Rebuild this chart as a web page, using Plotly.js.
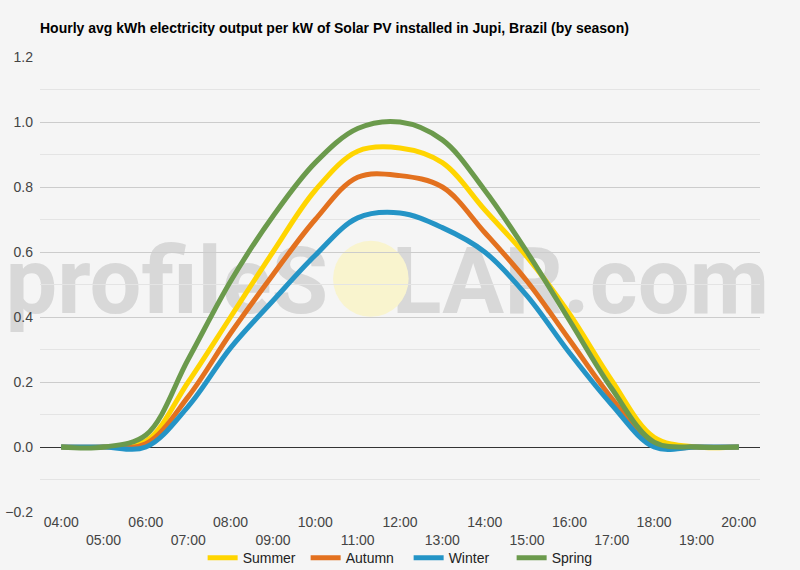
<!DOCTYPE html>
<html>
<head>
<meta charset="utf-8">
<script src="https://cdn.plot.ly/plotly-3.0.1.min.js"></script>
<style>
  html, body { margin: 0; padding: 0; background: #f5f5f5; }
  #chart { width: 800px; height: 570px; }
</style>
</head>
<body>
<div id="chart"></div>
<script>
// hourly values
const hours = ["04:00", "05:00", "06:00", "07:00", "08:00", "09:00", "10:00", "11:00", "12:00",
               "13:00", "14:00", "15:00", "16:00", "17:00", "18:00", "19:00", "20:00"];
const summer = [0, 0, 0.018, 0.20, 0.40, 0.60, 0.79, 0.91, 0.92, 0.875, 0.73, 0.585, 0.41, 0.205, 0.03, 0, 0];
const autumn = [0, 0, 0.010, 0.155, 0.35, 0.53, 0.70, 0.83, 0.835, 0.80, 0.66, 0.51, 0.33, 0.15, 0.005, 0, 0];
const winter = [0, 0, 0.0, 0.125, 0.305, 0.45, 0.59, 0.705, 0.72, 0.675, 0.60, 0.465, 0.29, 0.13, 0.0, 0, 0];
const spring = [0, 0, 0.037, 0.27, 0.51, 0.71, 0.875, 0.98, 1.0, 0.945, 0.79, 0.60, 0.39, 0.18, 0.015, 0, 0];

const seriesNames = ["Summer", "Autumn", "Winter", "Spring"];
const seriesValues = [summer, autumn, winter, spring];
const seriesColors = ["#ffd500", "#e3711f", "#2494c6", "#6b9a4c"];

const font = "Arial, 'Liberation Sans', sans-serif";

const traces = seriesNames.map((name, i) => ({
    x: hours,
    y: seriesValues[i],
    name: name,
    type: 'scatter',
    mode: 'lines',
    line: { color: seriesColors[i], width: 5, shape: 'spline', smoothing: 1 },
    hoverinfo: 'x+y+name'
}));

// stagger the hour labels: odd positions drop to a second row
const tickText = hours.map((h, i) => i % 2 === 0 ? h : "\u00a0<br>" + h);

const layout = {
    width: 800,
    height: 570,
    paper_bgcolor: '#f5f5f5',
    plot_bgcolor: '#f5f5f5',
    margin: { l: 40, r: 40, t: 57, b: 58 },
    font: { family: font, size: 14, color: '#444' },
    title: {
        text: '<b>Hourly avg kWh electricity output per kW of Solar PV installed in Jupi, Brazil (by season)</b>',
        font: { family: font, size: 14, color: '#000' },
        xref: 'paper', x: 0, xanchor: 'left',
        yref: 'container', y: 0.951, yanchor: 'middle'
    },
    xaxis: {
        type: 'category',
        range: [-0.5, hours.length - 0.5],
        tickvals: hours,
        ticktext: tickText,
        automargin: false,
        showgrid: false,
        zeroline: false,
        showline: false,
        ticks: '',
        tickfont: { family: font, size: 14, color: '#444' }
    },
    yaxis: {
        range: [-0.2, 1.2],
        dtick: 0.2,
        tick0: 0,
        tickformat: '.1f',
        automargin: false,
        showgrid: true,
        gridcolor: '#cccccc',
        gridwidth: 1,
        minor: { dtick: 0.1, showgrid: true, gridcolor: '#e4e4e4', gridwidth: 1 },
        zeroline: true,
        zerolinecolor: '#333',
        zerolinewidth: 1,
        ticks: '',
        ticklabelstandoff: 6,
        tickfont: { family: font, size: 14, color: '#444' }
    },
    legend: {
        orientation: 'h',
        xref: 'paper', x: 0.512, xanchor: 'center',
        yref: 'container', y: 0.021, yanchor: 'middle',
        font: { family: font, size: 14, color: '#222' },
        bgcolor: 'rgba(0,0,0,0)',
        itemwidth: 30,
        entrywidth: 58,
        entrywidthmode: 'pixels'
    },
    shapes: [
        {
            // watermark text, drawn under the lines
            type: 'rect',
            xref: 'paper', yref: 'paper',
            x0: -0.02, x1: 0.985, y0: 0.468, y1: 0.578,
            fillcolor: 'rgba(0,0,0,0)',
            line: { width: 0 },
            layer: 'below',
            label: {
                text: 'profileS<span style="color:rgba(0,0,0,0)">O</span>LAR.com',
                textposition: 'middle center',
                font: { family: 'Roboto, Arial, sans-serif', size: 92, weight: 'bold', color: 'rgba(150,150,150,0.3)' }
            }
        },
        {
            // sun in place of the O
            type: 'circle',
            xref: 'paper', yref: 'paper',
            x0: 0.407, x1: 0.512, y0: 0.429, y1: 0.596,
            fillcolor: 'rgb(249,244,206)',
            line: { width: 0 },
            layer: 'below'
        }
    ]
};

Plotly.newPlot('chart', traces, layout, { displayModeBar: false, staticPlot: true });
</script>
</body>
</html>
